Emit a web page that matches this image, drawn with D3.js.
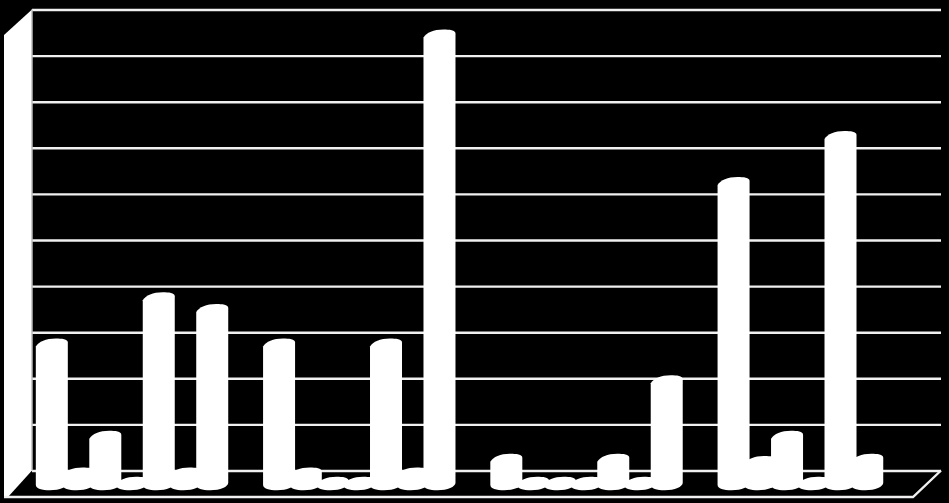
<!DOCTYPE html>
<html>
<head>
<meta charset="utf-8">
<script src="https://cdn.jsdelivr.net/npm/d3@7"></script>
<style>
  html, body { margin: 0; padding: 0; background: #000; }
  svg { display: block; }
</style>
</head>
<body>
<div id="chart"></div>
<script>
const w = 949;
const h = 503;

// values, null = no bar drawn
const groups = ["A", "B", "C", "D"];
const series = ["s1", "s2", "s3", "s4", "s5", "s6", "s7"];
const valuesA = [30, 2, 10, 0, 40, 2, 37.5];
const valuesB = [30, 2, 0, 0, 30, 2, 97];
const valuesC = [5, 0, 0, 0, 5, 0, 22];
const valuesD = [65, 4.5, 10, 0, 75, 5, null];
const allValues = [valuesA, valuesB, valuesC, valuesD];
const gridTicks = d3.range(0, 101, 10);

// floor of the fake 3d box
const left = 4;
const right = 913;
const front = 497;
const depthX = 28;
const depthY = 26.5;

var svg = d3.select("#chart").append("svg").attr("width", w).attr("height", h);
svg.append("rect").attr("width", w).attr("height", h).attr("fill", "#000");

const x0 = d3.scaleBand().domain(groups).range([left, right]);
const x1 = d3.scaleBand().domain(series).range([0, x0.bandwidth()]).paddingOuter(0.75);
const y = d3.scaleLinear().domain([0, 100]).range([front - depthY, 9.5]);

// left wall
svg.append("path")
  .attr("d", `M${left},${front} L${left},35 L${left + depthX},9.5 L${left + depthX},${front - depthY} L8,${front} Z`)
  .attr("fill", "#fff");

// gridlines on the back wall
svg.append("g")
  .attr("transform", `translate(${left + depthX},0)`)
  .call(d3.axisLeft(y).tickValues(gridTicks).tickSize(-(right - left)).tickFormat(""))
  .call((g) => g.select(".domain").remove())
  .selectAll("line")
  .attr("stroke", "#f0f0f0")
  .attr("stroke-width", 2.4);

svg.append("line")
  .attr("x1", left + depthX).attr("x2", left + depthX)
  .attr("y1", 9.5).attr("y2", front - depthY)
  .attr("stroke", "#bbb").attr("stroke-width", 1.5);

// floor edges
svg.append("path")
  .attr("d", `M${left},${front} L${right},${front} L${right + depthX},${front - depthY}`)
  .attr("fill", "none")
  .attr("stroke", "#f0f0f0")
  .attr("stroke-width", 2.4);

// cylinder outline, squarish ends that lean up to the right
function cylinder(cx, yTop, yBase) {
  const rx = 16;
  const l = cx - rx;
  const r = cx + rx;
  return `M${l},${yTop + 1}` +
    ` C${l + 3},${yTop - 4} ${l + 10},${yTop - 7} ${cx + 4},${yTop - 7}` +
    ` C${r - 6},${yTop - 7} ${r},${yTop - 6.5} ${r},${yTop - 3}` +
    ` L${r},${yBase - 1}` +
    ` C${r},${yBase + 3} ${r - 8},${yBase + 6.5} ${cx - 2},${yBase + 6.5}` +
    ` C${l + 6},${yBase + 6.5} ${l},${yBase + 5} ${l},${yBase + 1} Z`;
}

const barDx = depthX / 2 + 0.4;
const barDy = depthY / 2;

groups.forEach((g, gi) => {
  svg.append("g")
    .selectAll("path")
    .data(allValues[gi].map((v, i) => ({ s: series[i], v: v })).filter((d) => d.v !== null))
    .enter()
    .append("path")
    .attr("fill", "#fff")
    .attr("d", (d) => {
      const cx = x0(g) + x1(d.s) + x1.bandwidth() / 2 + barDx;
      return cylinder(cx, y(d.v) + barDy, y(0) + barDy);
    });
});
</script>
</body>
</html>
